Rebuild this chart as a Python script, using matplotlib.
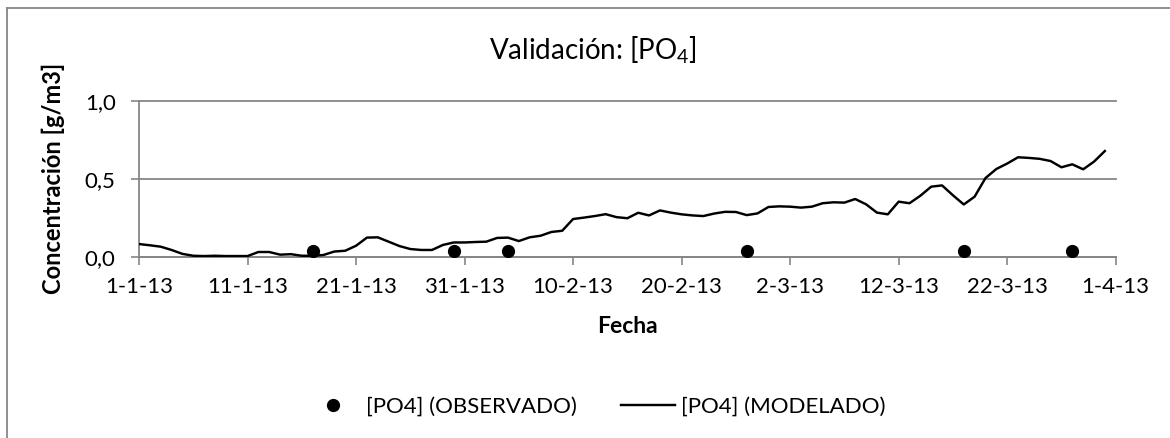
"""Validación de [PO4]: concentración modelada frente a observada (ene-mar 2013)."""

import matplotlib

matplotlib.use("Agg")

import matplotlib.pyplot as plt
import pandas as pd
from matplotlib.lines import Line2D

plt.rcParams["font.family"] = ["Lato", "DejaVu Sans"]
plt.rcParams["mathtext.fontset"] = "custom"
plt.rcParams["mathtext.rm"] = "Lato"
plt.rcParams["mathtext.it"] = "Lato"

# serie modelada, un valor diario desde el 1-1-13
start_date = "2013-01-01"
modelado = [
    0.083, 0.075, 0.066, 0.045, 0.020, 0.008, 0.006, 0.008, 0.006, 0.006,
    0.006, 0.032, 0.032, 0.015, 0.018, 0.008, 0.008, 0.013, 0.035, 0.040,
    0.072, 0.124, 0.126, 0.098, 0.070, 0.051, 0.045, 0.045, 0.077, 0.093,
    0.093, 0.096, 0.098, 0.122, 0.124, 0.102, 0.126, 0.136, 0.160, 0.168,
    0.243, 0.252, 0.262, 0.274, 0.255, 0.248, 0.283, 0.266, 0.298, 0.284,
    0.273, 0.266, 0.262, 0.278, 0.289, 0.288, 0.268, 0.279, 0.320, 0.324,
    0.322, 0.316, 0.322, 0.344, 0.350, 0.348, 0.371, 0.337, 0.284, 0.273,
    0.354, 0.344, 0.392, 0.450, 0.458, 0.395, 0.336, 0.386, 0.505, 0.563,
    0.598, 0.638, 0.634, 0.628, 0.614, 0.574, 0.593, 0.561, 0.610, 0.678,
]

obs_fechas = ["2013-01-17", "2013-01-30", "2013-02-04", "2013-02-26", "2013-03-18", "2013-03-28"]
observado = [0.04, 0.04, 0.04, 0.04, 0.04, 0.04]

tick_fechas = ["2013-01-01", "2013-01-11", "2013-01-21", "2013-01-31", "2013-02-10",
               "2013-02-20", "2013-03-02", "2013-03-12", "2013-03-22", "2013-04-01"]
tick_labels = ["1-1-13", "11-1-13", "21-1-13", "31-1-13", "10-2-13",
               "20-2-13", "2-3-13", "12-3-13", "22-3-13", "1-4-13"]
y_ticks = [0.0, 0.5, 1.0]
y_labels = ["0,0", "0,5", "1,0"]

GREY = "#868686"

W, H = 1170, 438
fig = plt.figure(figsize=(W / 100, H / 100), dpi=100)
ax = fig.add_axes([139 / W, 1 - 257 / H, (1115.7 - 139) / W, (257 - 100.7) / H])

fechas = pd.date_range(start_date, periods=len(modelado), freq="D")
ax.plot(fechas, modelado, color="black", lw=1.75, zorder=3)
ax.plot(pd.to_datetime(obs_fechas), observado, "o", color="black", ms=8.5, zorder=4)

ax.set_xlim(pd.Timestamp(tick_fechas[0]), pd.Timestamp(tick_fechas[-1]))
ax.set_ylim(0, 1.0)
ax.set_xticks(pd.to_datetime(tick_fechas))
ax.set_xticklabels(tick_labels)
ax.set_yticks(y_ticks)
ax.set_yticklabels(y_labels)

ax.tick_params(axis="both", colors=GREY, labelcolor="black", labelsize=16,
               length=5.8, width=1.2, direction="out")
ax.tick_params(axis="x", pad=8.6)
ax.tick_params(axis="y", pad=11)

for side in ("top", "right"):
    ax.spines[side].set_visible(False)
for side in ("left", "bottom"):
    ax.spines[side].set_color(GREY)
    ax.spines[side].set_linewidth(1.3)

ax.yaxis.grid(True, color=GREY, lw=1.3)
for line in ax.get_ygridlines():
    line.set_clip_on(False)
ax.set_axisbelow(True)

ax.set_xlabel("Fecha", fontsize=16.5, fontweight="bold", labelpad=14)
ax.set_ylabel("Concentración [g/m3]", fontsize=17, fontweight="bold", labelpad=14.4)

fig.text(593 / W, 1 - 50 / H, r"Validación: [PO$_4$]", fontsize=20,
         ha="center", va="center")

handles = [
    Line2D([], [], ls="none", marker="o", color="black", ms=8.5),
    Line2D([], [], color="black", lw=1.75),
]
fig.legend(handles, ["[PO4] (OBSERVADO)", "[PO4] (MODELADO)"], ncol=2,
           loc="center", bbox_to_anchor=(596 / W, 1 - 407 / H), frameon=False,
           fontsize=16, handlelength=2.4, handletextpad=0.3, columnspacing=2.0)

# borde del área del gráfico (sólo se ven el lado izquierdo y el superior)
fig.add_artist(Line2D([7 / W, 7 / W], [0, 1 - 8 / H], transform=fig.transFigure,
                      color=GREY, lw=1.3))
fig.add_artist(Line2D([7 / W, 1], [1 - 8 / H, 1 - 8 / H], transform=fig.transFigure,
                      color=GREY, lw=1.3))

fig.savefig("out.png", dpi=100)
